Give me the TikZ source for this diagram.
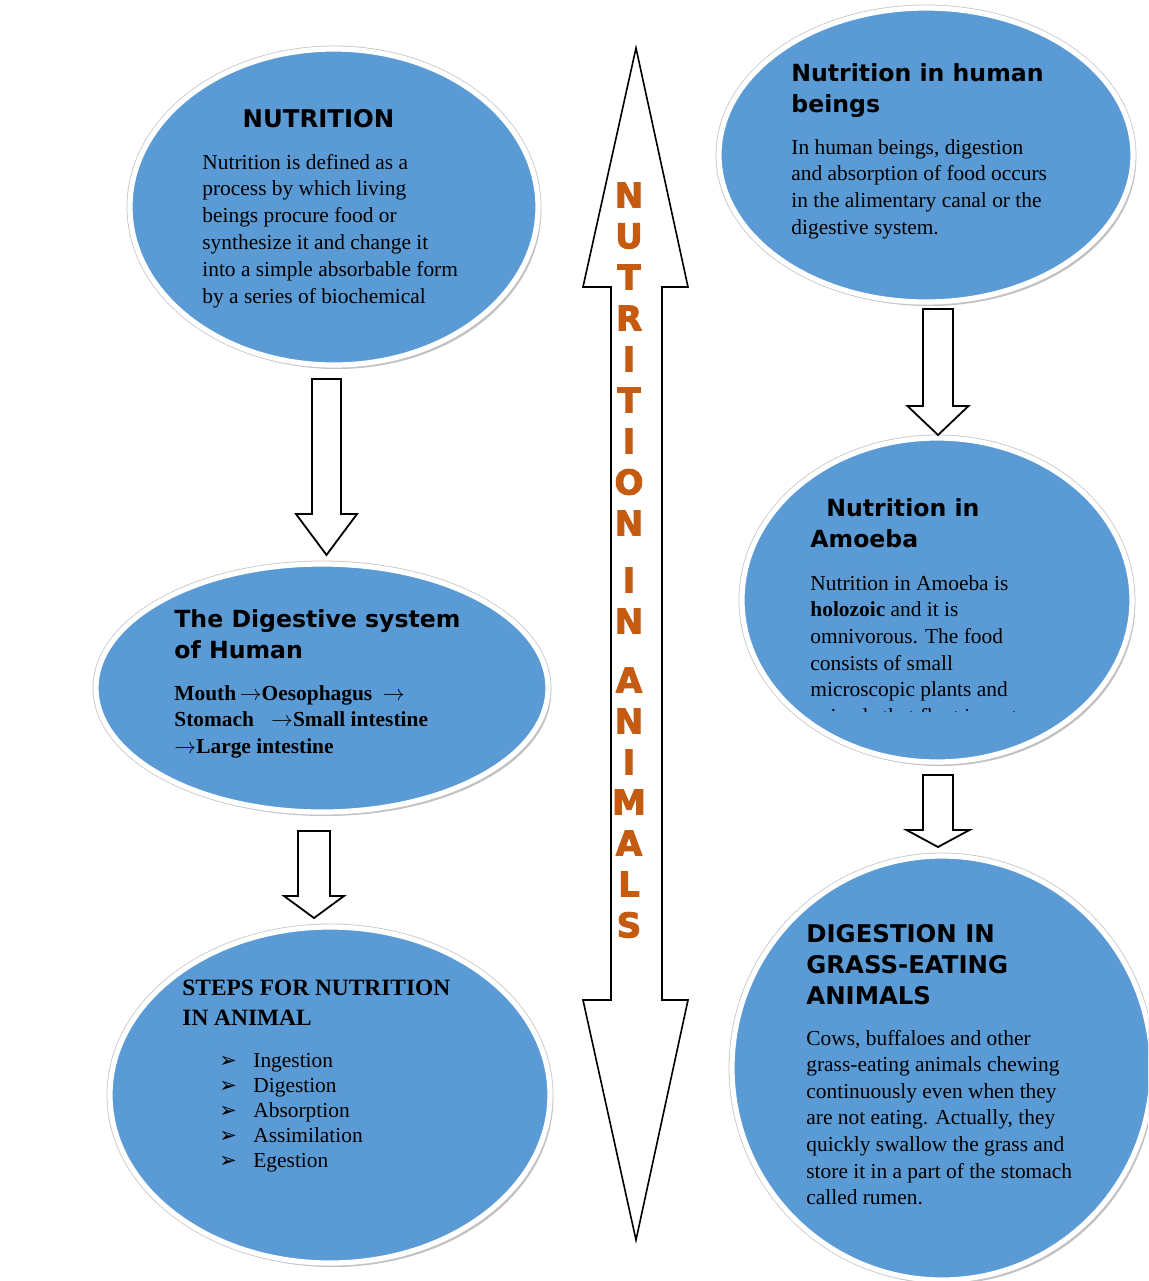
\documentclass[tikz,border=0pt]{standalone}
\usepackage{fontspec}
\setmainfont{Liberation Serif}
\newfontfamily\headfont{DejaVu Sans}
\newfontfamily\ltrfont{DejaVu Sans}[BoldFeatures={FakeBold=3}]
\usetikzlibrary{shapes.geometric,shadows}
\definecolor{bubblue}{RGB}{91,155,213}
\definecolor{titleorange}{RGB}{197,90,17}
\tikzset{
  bub/.style={ellipse, inner sep=0, fill=bubblue, draw=white, line width=2.6pt,
    drop shadow={shadow xshift=1.6pt, shadow yshift=-2pt, opacity=.35, fill=black!70},
    preaction={draw=gray!45, line width=3.4pt}},
  body/.style={font=\fontsize{10.7}{13}\selectfont, anchor=base west, inner sep=0, text=black},
  bodyb/.style={body, font=\bfseries\fontsize{10.7}{13}\selectfont},
  head/.style={font=\headfont\bfseries\fontsize{11.8}{14}\selectfont, anchor=base west, inner sep=0},
  shead/.style={font=\bfseries\fontsize{11.7}{14}\selectfont, anchor=base west, inner sep=0},
  bul/.style={font=\headfont\fontsize{10.5}{12}\selectfont, anchor=base west, inner sep=0},
  ltr/.style={font=\ltrfont\bfseries\fontsize{17}{20}\selectfont, text=titleorange, inner sep=0},
  blk/.style={draw=black, fill=white, line width=0.9pt, line join=miter},
}
\newcommand\blkarrow[6]{%
  \draw[blk] ({#1-#5},#2) -- ({#1+#5},#2) -- ({#1+#5},#3) -- ({#1+#6},#3) -- (#1,#4)
    -- ({#1-#6},#3) -- ({#1-#5},#3) -- cycle;}
\newcommand\rarr{\ensuremath{\rightarrow}}
\begin{document}
\begin{tikzpicture}[x=0.5pt,y=-0.5pt]
\useasboundingbox (0,0) rectangle (1148,1281);
\fill[white] (0,0) rectangle (1148,1281);
\clip (0,0) rectangle (1148,1281);

% bubbles
\node[bub, minimum width=204pt, minimum height=158pt] (e1) at (334,207) {};
\node[bub, minimum width=207pt, minimum height=147pt] (e2) at (926,155) {};
\node[bub, minimum width=226pt, minimum height=124pt] (e3) at (322,688) {};
\node[bub, minimum width=195pt, minimum height=162pt] (e4) at (937,600) {};
\node[bub, minimum width=220pt, minimum height=168pt] (e5) at (330,1095) {};
\node[bub, minimum width=210pt, minimum height=212pt] (e6) at (942,1068) {};

% block arrows
\blkarrow{326.5}{379}{514}{555}{14.5}{30.5}
\blkarrow{938}{309}{406}{435}{15}{30.5}
\blkarrow{938}{775}{830}{847}{15}{31.5}
\blkarrow{314}{831}{896}{918}{16}{30}

% central double arrow
\draw[blk, line width=0.8pt] (636,48) -- (688,287) -- (662,287) -- (662,1000) -- (688,1000)
  -- (636,1240) -- (583,1000) -- (611,1000) -- (611,287) -- (583,287) -- cycle;
\foreach \c/\yy [count=\k] in {N/195,U/236,T/277,R/318,I/359,T/400,I/441,O/482,N/523,
  I/580,N/621,A/680,N/721,I/762,M/802,A/843,L/884,S/925}
  \node[ltr] (ltr\k) at (629,\yy) {\c};

% NUTRITION
\node[head, anchor=base, font=\headfont\bfseries\fontsize{12.2}{14}\selectfont] (h1) at (318.5,127) {NUTRITION};
\foreach \t [count=\k] in {Nutrition is defined as a, process by which living,
  beings procure food or, synthesize it and change it, into a simple absorbable form,
  by a series of biochemical}
  \node[body] (ta\k) at (202,{169+(\k-1)*26.8}) {\t};

% Nutrition in human beings
\node[head] (h2a) at (791,81) {Nutrition in human};
\node[head] (h2b) at (791,112) {beings};
\foreach \t [count=\k] in {{In human beings, digestion}, and absorption of food occurs,
  in the alimentary canal or the, digestive system.}
  \node[body] (tb\k) at (791,{154+(\k-1)*26.8}) {\t};

% Digestive system
\node[head] (h3a) at (174,627) {The Digestive system};
\node[head] (h3b) at (174,658) {of Human};
\node[bodyb] (tc1) at (174,700) {Mouth\,\rarr Oesophagus\hspace{0.5em}\rarr};
\node[bodyb] (tc2) at (174,726) {Stomach\hspace{0.8em}\rarr Small intestine};
\node[bodyb] (tc3) at (174,753) {\rarr Large intestine};

% Amoeba
\node[head] (h4a) at (826,516) {Nutrition in};
\node[head] (h4b) at (810,547) {Amoeba};
\node[body] (td1) at (810,590) {Nutrition in Amoeba is};
\node[body] (td2) at (810,616) {\textbf{holozoic} and it is};
\node[body] (td3) at (810,643) {omnivorous. The food};
\node[body] (td4) at (810,670) {consists of small};
\node[body] (td5) at (810,696) {microscopic plants and};
\begin{scope}
  \clip (800,695) rectangle (1100,711);
  \node[body] (td6) at (810,723) {animals that float in water.};
\end{scope}

% Steps
\node[shead] (h5a) at (182,995) {STEPS FOR NUTRITION};
\node[shead] (h5b) at (182,1025) {IN ANIMAL};
\foreach \t [count=\k] in {Ingestion, Digestion, Absorption, Assimilation, Egestion} {
  \node[bul] (bu\k) at (219,{1067+(\k-1)*25}) {➢};
  \node[body] (te\k) at (253,{1067+(\k-1)*25}) {\t};
}

% Grass eating
\node[head, font=\headfont\bfseries\fontsize{12.2}{14}\selectfont] (h6a) at (806,942) {DIGESTION IN};
\node[head, font=\headfont\bfseries\fontsize{12.2}{14}\selectfont] (h6b) at (806,973) {GRASS-EATING};
\node[head, font=\headfont\bfseries\fontsize{12.2}{14}\selectfont] (h6c) at (806,1004) {ANIMALS};
\foreach \t [count=\k] in {{Cows, buffaloes and other}, grass-eating animals chewing,
  continuously even when they, {are not eating. Actually, they}, quickly swallow the grass and,
  store it in a part of the stomach, called rumen.}
  \node[body] (tf\k) at (806,{1045+(\k-1)*26.6}) {\t};
\end{tikzpicture}
\end{document}
